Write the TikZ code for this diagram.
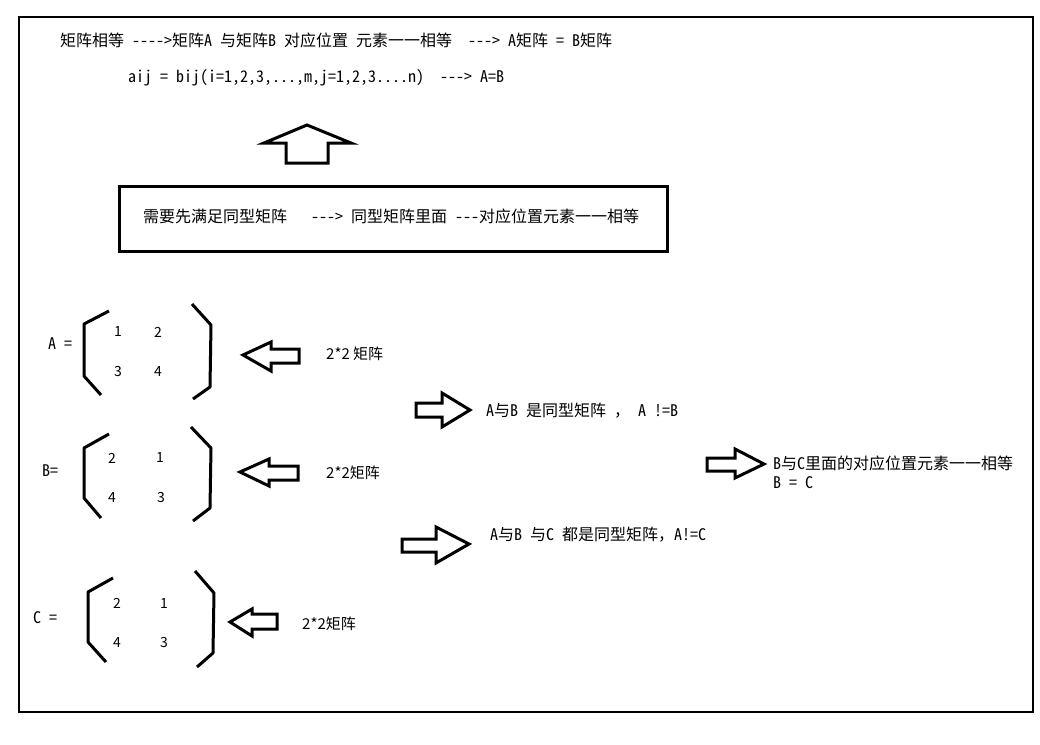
\documentclass[tikz,border=0pt]{standalone}
\usepackage{fontspec}
\setmainfont{Noto Sans CJK SC}[RawFeature=+hwid]
\newfontfamily\numfont{Noto Sans CJK SC}

\begin{document}
\begin{tikzpicture}[x=1pt, y=-1pt,
    txt/.style={anchor=west, inner sep=0pt, font=\fontsize{16}{19}\selectfont},
    num/.style={inner sep=0pt, font=\numfont\fontsize{14}{16}\selectfont},
    fat/.style={line width=3pt, line join=miter},
    brk/.style={line width=3pt, line join=round}]
    \useasboundingbox (0,0) rectangle (1040,744);
    \draw[line width=2pt] (19,17) rectangle (1033,712);

    % top lines
    \node[txt] (rule) at (60,40) {矩阵相等 -{}-{}-{}-{}>矩阵A 与矩阵B 对应位置 元素一一相等~~-{}-{}-> A矩阵 = B矩阵};
    \node[txt] (aij) at (128,78) {aij = bij(i=1,2,3,...,m,j=1,2,3....n)~~-{}-{}-> A=B};
    \draw[fat] (286,163) -- (286,143) -- (264,143) -- (307,125) -- (351,143) -- (328,143) -- (328,163) -- cycle;
    \draw[fat] (119,186) rectangle (667,251);
    \node[txt] (need) at (143,216) {需要先满足同型矩阵~~~-{}-{}-> 同型矩阵里面 -{}-{}-对应位置元素一一相等};

    % matrices
    \node[txt] (nameA) at (48,344) {A =};
    \node[txt] (nameB) at (42,471) {B=};
    \node[txt] (nameC) at (33,618) {C =};
    \draw[brk] (109,311) -- (84,324) -- (84,376) -- (101,395);
    \draw[brk] (192,304) -- (211,325) -- (210,387) -- (193,399);
    \draw[brk] (109,434) -- (84,448) -- (84,498) -- (101,518);
    \draw[brk] (191,427) -- (211,448) -- (210,508) -- (193,521);
    \draw[brk] (113,578) -- (88,592) -- (88,642) -- (106,662);
    \draw[brk] (195,571) -- (214,593) -- (213,653) -- (197,667);
    \foreach \m/\n/\x/\y in {A/1/118/332, A/2/158/332, A/3/118/372, A/4/158/372,
                             B/2/112/458, B/1/160/458, B/4/112/498, B/3/161/498,
                             C/2/117/603, C/1/164/603, C/4/117/642, C/3/164/642} {
      \node[num] (\m\n) at (\x,\y) {\n};
    }

    % left arrows
    \draw[fat] (243,355) -- (271,342) -- (271,349) -- (299,349) -- (299,363) -- (271,363) -- (271,371) -- cycle;
    \draw[fat] (240,472) -- (269,459) -- (269,466) -- (298,466) -- (298,480) -- (269,480) -- (269,486) -- cycle;
    \draw[fat] (230,622) -- (252,609) -- (252,614) -- (277,614) -- (277,629) -- (252,629) -- (252,636) -- cycle;
    \node[num, anchor=west, font=\numfont\fontsize{15}{18}\selectfont] (sizeA) at (326,354) {2*2 矩阵};
    \node[num, anchor=west, font=\numfont\fontsize{15}{18}\selectfont] (sizeB) at (326,473) {2*2矩阵};
    \node[num, anchor=west, font=\numfont\fontsize{15}{18}\selectfont] (sizeC) at (302,624) {2*2矩阵};

    % right arrows
    \draw[fat] (416,403) -- (442,403) -- (442,393) -- (470,410) -- (442,427) -- (442,417) -- (416,417) -- cycle;
    \draw[fat] (402,539) -- (436,539) -- (436,527) -- (469,544) -- (436,563) -- (436,552) -- (402,552) -- cycle;
    \draw[fat] (707,458) -- (735,458) -- (735,449) -- (764,464) -- (735,478) -- (735,471) -- (707,471) -- cycle;
    \node[txt] (ab) at (486,411) {A与B 是同型矩阵 {\numfont ，} A !=B};
    \node[txt] (abc) at (490,535) {A与B 与C 都是同型矩阵{\numfont ，}A!=C};
    \node[txt] (bc) at (773,463) {B与C里面的对应位置元素一一相等};
    \node[txt] (bceq) at (773,483) {B = C};
\end{tikzpicture}
\end{document}
